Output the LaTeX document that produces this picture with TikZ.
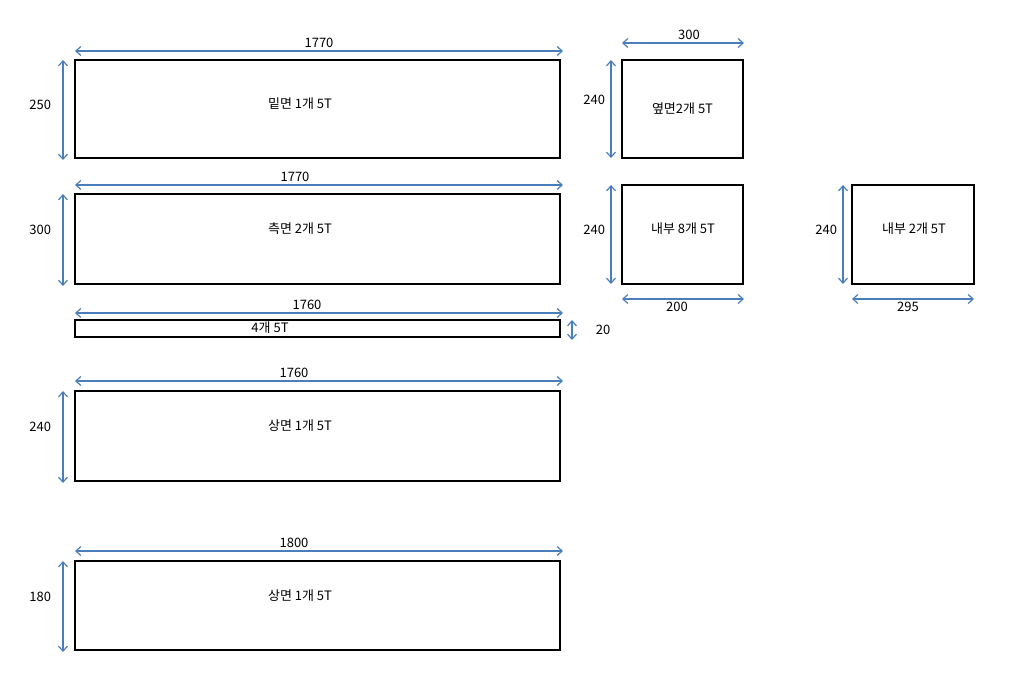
\documentclass[tikz,border=0pt]{standalone}
\usepackage{fontspec}
\setmainfont{Noto Sans CJK KR}
\usetikzlibrary{arrows.meta}
\tikzset{
  panel/.style={draw, line width=2.3pt, inner sep=0pt, font=\fontsize{13}{15}\selectfont},
  dim/.style={draw=dimblue, line width=1.2pt, {Straight Barb[length=5pt,width=9pt]}-{Straight Barb[length=5pt,width=9pt]}},
  lab/.style={font=\fontsize{13}{15}\selectfont}
}
\definecolor{dimblue}{HTML}{4A7EBB}
\begin{document}
\begin{tikzpicture}[x=1pt,y=-1pt]
         \useasboundingbox (0,0) rectangle (1014,696);
         % long panels
         \node[panel, minimum width=485pt, minimum height=98pt] (A) at (317.5,109) {};
         \node[panel, minimum width=485pt, minimum height=90pt] (B) at (317.5,239) {};
         \node[panel, minimum width=485pt, minimum height=17pt] (C) at (317.5,328.5) {};
         \node[panel, minimum width=485pt, minimum height=90pt] (D) at (317.5,436) {};
         \node[panel, minimum width=485pt, minimum height=89pt] (E) at (317.5,605.5) {};
         \node[lab] (At) at (300,104) {밑면 1개 5T};
         \node[lab] (Bt) at (300,229) {측면 2개 5T};
         \node[lab] (Ct) at (270,328) {4개 5T};
         \node[lab] (Dt) at (300,426) {상면 1개 5T};
         \node[lab] (Et) at (300,596) {상면 1개 5T};
         % small panels
         \node[panel, minimum width=121pt, minimum height=98pt, font=\fontsize{13}{15}\selectfont] (F) at (682.5,109) {옆면2개 5T};
         \node[panel, minimum width=121pt, minimum height=99pt] (G) at (682.5,234.5) {};
         \node[panel, minimum width=122pt, minimum height=99pt] (H) at (913,234.5) {};
         \node[lab] (Gt) at (683,229) {내부 8개 5T};
         \node[lab] (Ht) at (914,229) {내부 2개 5T};
         % dimensions
         \draw[dim] (75,51) -- (563,51) node[lab, midway, above=-1pt] {1770};
         \draw[dim] (63,60) -- (63,160) node[lab, midway, left=8pt, yshift=5pt] {250};
         \draw[dim] (75,185) -- (563,185) node[lab, midway, above=-1pt, xshift=-24pt] {1770};
         \draw[dim] (63,194) -- (63,286) node[lab, midway, left=8pt, yshift=10pt] {300};
         \draw[dim] (75,313) -- (563,313) node[lab, midway, above=-1pt, xshift=-12pt] {1760};
         \draw[dim] (572,320) -- (572,340) node[lab, midway, right=20pt] {20};
         \draw[dim] (75,381) -- (563,381) node[lab, midway, above=-1pt, xshift=-25pt] {1760};
         \draw[dim] (63,391) -- (63,483) node[lab, midway, left=8pt, yshift=10pt] {240};
         \draw[dim] (75,551) -- (563,551) node[lab, midway, above=-1pt, xshift=-25pt] {1800};
         \draw[dim] (63,561) -- (63,652) node[lab, midway, left=8pt, yshift=10pt] {180};
         \draw[dim] (622,43) -- (744,43) node[lab, midway, above=-1pt, xshift=6pt] {300};
         \draw[dim] (611,60) -- (611,158) node[lab, midway, left=2pt, yshift=9pt] {240};
         \draw[dim] (611,185) -- (611,284) node[lab, midway, left=2pt, yshift=5pt] {240};
         \draw[dim] (622,299) -- (744,299) node[lab, midway, below=-1pt, xshift=-6pt] {200};
         \draw[dim] (843,185) -- (843,284) node[lab, midway, left=2pt, yshift=5pt] {240};
         \draw[dim] (852,299) -- (974,299) node[lab, midway, below=-1pt, xshift=-5pt] {295};
      \end{tikzpicture}
\end{document}
